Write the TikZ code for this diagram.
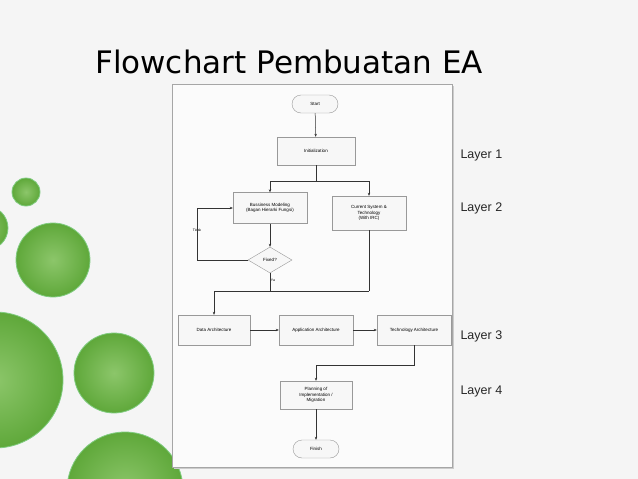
\documentclass[tikz,border=0pt]{standalone}
\usepackage{fontspec}
\setmainfont{Liberation Sans}
\newfontfamily\titlefont{DejaVu Sans}
\usetikzlibrary{shapes.geometric,arrows.meta}
\definecolor{gIn}{HTML}{8CC66A}
\definecolor{gOut}{HTML}{5FA83A}
\begin{document}
\begin{tikzpicture}[x=1pt,y=-1pt,
  box/.style={draw=gray!80,fill=gray!6,minimum width=#1,minimum height=30,align=center,font=\fontsize{4.5}{5.5}\selectfont,inner sep=1pt},
  term/.style={draw=gray!80,fill=gray!6,rounded corners=9,minimum width=46,minimum height=18,font=\fontsize{4.5}{5.5}\selectfont},
  arr/.style={draw=gray!40!black,line width=0.5pt,-{Stealth[length=3pt,width=2.5pt]}},
  ln/.style={draw=gray!40!black,line width=0.5pt},
  layer/.style={font=\fontsize{12.5}{14}\selectfont,text=black!85,anchor=west},
  blob/.style={draw=black!40!green!50,line width=0.8pt,inner color=gIn,outer color=gOut}]
\useasboundingbox (0,0) rectangle (638,479);
\fill[black!4] (0,0) rectangle (638,479);
% green circles
\shade[blob] (26,192) circle (14);
\shade[blob] (-14,228) circle (22);
\shade[blob] (53,260) circle (37);
\shade[blob] (-5,380) circle (68);
\shade[blob] (114,373) circle (40);
\shade[blob] (125,490) circle (58);
\node[font=\titlefont\fontsize{31}{34}\selectfont,anchor=west,inner sep=0] (title) at (95,62) {Flowchart Pembuatan EA};
% panel
\fill[black!20] (174,86) rectangle (454,469);
\draw[gray!70,fill=gray!3] (172,84) rectangle (452,467);
% nodes
\node[term] (start) at (315,104) {Start};
\node[box=78,minimum height=28] (init) at (316,151) {Initialization};
\node[box=74,minimum height=31] (bm) at (270,208) {Bussiness Modeling\\(Bagan Hierarki Fungsi)};
\node[box=74,minimum height=34] (cs) at (369,213) {Current System \&\\Technology\\(With IRC)};
\node[diamond,aspect=1.7,draw=gray!80,fill=gray!6,minimum width=44,minimum height=26,inner sep=0pt,font=\fontsize{4.5}{5.5}\selectfont] (fx) at (270,260) {Fixed?};
\node[box=72] (da) at (214,330) {Data Architecture};
\node[box=74] (aa) at (316,330) {Application Architecture};
\node[box=74] (ta) at (414,330) {Technology Architecture};
\node[box=72,minimum height=28] (pl) at (316,395) {Planning of\\Implementation /\\Migration};
\node[term] (fin) at (316,449) {Finish};
\node[font=\fontsize{3.5}{4}\selectfont] (tidak) at (197,230) {Tidak};
\node[font=\fontsize{3.5}{4}\selectfont] (ya) at (273,280) {Ya};
\coordinate (split) at (316,181);
\coordinate (join) at (369,291);
\coordinate (mid) at (316,365);
% connectors
\draw[arr] (start) -- (init);
\draw[ln] (init) -- (split);
\draw[arr] (split) -| (bm.north);
\draw[arr] (split) -| (cs.north);
\draw[arr] (bm) -- (fx);
\draw[arr] (fx.west) -| (197,208) -- (bm.west);
\draw[ln] (fx.south) |- (join);
\draw[ln] (cs.south) -- (join);
\draw[arr] (fx.south |- join) -| (da.north);
\draw[arr] (da) -- (aa);
\draw[arr] (aa) -- (ta);
\draw[ln] (ta.south) |- (mid);
\draw[arr] (mid) -- (pl.north);
\draw[arr] (pl) -- (fin);
% layers
\node[layer] (l1) at (457,155) {Layer 1};
\node[layer] (l2) at (457,208) {Layer 2};
\node[layer] (l3) at (457,336) {Layer 3};
\node[layer] (l4) at (457,391) {Layer 4};
\end{tikzpicture}
\end{document}
